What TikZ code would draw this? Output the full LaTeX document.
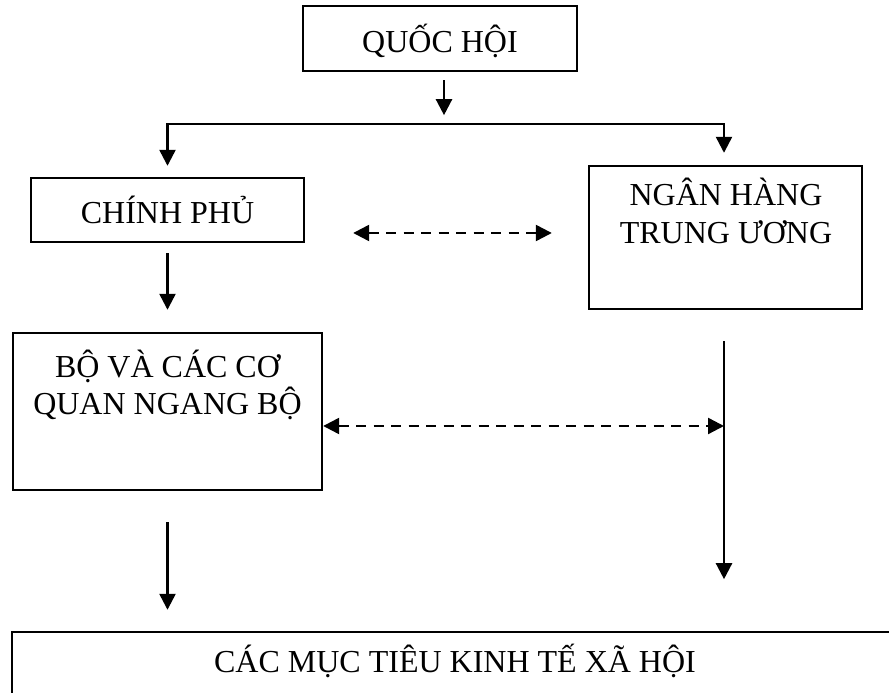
\documentclass[tikz,border=0pt]{standalone}
\usepackage{fontspec}
\setmainfont{Liberation Serif}
\usetikzlibrary{positioning, arrows.meta}

\begin{document}
\begin{tikzpicture}[x=1pt, y=1pt]
\tikzstyle{box}=[draw, rectangle, line width=2.4pt, inner sep=0pt, text depth=0pt, font=\fontsize{32}{37.5}\selectfont]
\tikzstyle{boxtext}=[inner sep=0pt, align=center, font=\fontsize{32}{37.5}\selectfont]
\tikzstyle{link}=[draw, line width=2.4pt, -{Triangle[width=16pt, length=16pt]}]
\tikzstyle{both}=[draw, line width=2.4pt, dash pattern=on 10pt off 7.5pt, {Triangle[width=16pt, length=16pt]}-{Triangle[width=16pt, length=16pt]}]

\clip (0, 0) rectangle (889, 693);

\node[box, minimum width=274pt, minimum height=65pt](quoc-hoi) at (440, 654.5) {QUỐC HỘI};
\node[box, minimum width=273pt, minimum height=64pt](chinh-phu) at (167.5, 483) {CHÍNH PHỦ};
\node[box, minimum width=273pt, minimum height=143pt](ngan-hang) at (725.5, 455.5) {};
\node[boxtext, anchor=base](ngan-hang-txt) at (726, 449.5) {NGÂN HÀNG\\TRUNG ƯƠNG};
\node[box, minimum width=309pt, minimum height=157pt](bo) at (167.5, 281.5) {};
\node[boxtext, anchor=base](bo-txt) at (167.5, 278) {BỘ VÀ CÁC CƠ\\QUAN NGANG BỘ};
\node[box, minimum width=886pt, minimum height=90pt](muc-tieu) at (455, 16) {};
\node[boxtext, anchor=base](muc-tieu-txt) at (455, 20) {CÁC MỤC TIÊU KINH TẾ XÃ HỘI};

\coordinate (fork) at (444, 569);
\coordinate (nh-top) at ([xshift=-1.5pt, yshift=-31pt]ngan-hang.south);
\coordinate (dash-l) at ([yshift=-14.5pt]bo.east);
\coordinate (mt-in) at ([yshift=21pt]muc-tieu.north);

\path[link] ([xshift=4pt, yshift=-8pt]quoc-hoi.south) -- ([xshift=4pt, yshift=-43pt]quoc-hoi.south);
\path[draw, line width=2.4pt, {Triangle[width=16pt, length=16pt]}-{Triangle[width=16pt, length=16pt]}] ([yshift=11pt]chinh-phu.north) |- (fork) -| ([xshift=-1.5pt, yshift=12pt]ngan-hang.north);
\path[link] ([yshift=-10pt]chinh-phu.south) -- ([yshift=22pt]bo.north);
\path[both] ([xshift=48pt, yshift=-23pt]chinh-phu.east) -- ([xshift=-36pt, yshift=4.5pt]ngan-hang.west);
\path[link] (nh-top) -- ([xshift=-1.5pt, yshift=-269pt]ngan-hang.south);
\path[both] (dash-l) -- (dash-l -| nh-top);
\path[link] ([yshift=-31pt]bo.south) -- (mt-in -| bo.south);

\end{tikzpicture}
\end{document}
